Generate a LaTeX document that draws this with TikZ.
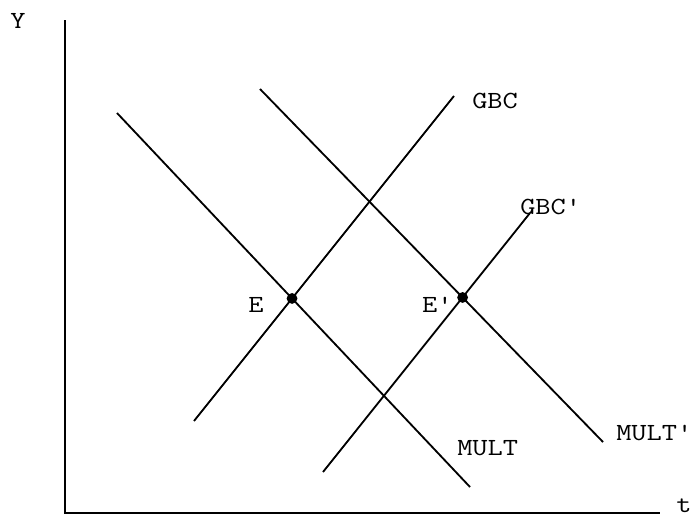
\documentclass[tikz,border=0pt]{standalone}
\usepackage{fontspec}
\setmonofont{Latin Modern Mono}[FakeStretch=1.2]
\usepackage{tikz}

\begin{document}
\begin{tikzpicture}[x=0.025cm, y=-0.025cm,
    curve/.style={line width=1.3pt},
    lbl/.style={font=\fontsize{17.5}{20}\selectfont\ttfamily, inner sep=0pt},
    eqdot/.style={circle, fill=black, inner sep=0pt, minimum size=0.27cm}]
        \useasboundingbox (0,0) rectangle (696,520);
        % Axes
        \coordinate (top) at (65,20);
        \coordinate (origin) at (65,513);
        \coordinate (right) at (660,513);
        \draw[line width=1.7pt] (top) -- (origin) -- (right);
        \node[lbl] (ylab) at (18,21) {Y};
        \node[lbl] (tlab) at (684,506) {t};
        % End points of the four lines
        \coordinate (mult1) at (117,113);
        \coordinate (mult2) at (470,487);
        \coordinate (multb1) at (260,89);
        \coordinate (multb2) at (603,442);
        \coordinate (gbc1) at (194,421);
        \coordinate (gbc2) at (454,96);
        \coordinate (gbcb1) at (323,472);
        \coordinate (gbcb2) at (530,213);
        \draw[curve] (mult1) -- (mult2);
        \draw[curve] (multb1) -- (multb2);
        \draw[curve] (gbc1) -- (gbc2);
        \draw[curve] (gbcb1) -- (gbcb2);
        % Equilibria
        \node[eqdot] (E) at (intersection of mult1--mult2 and gbc1--gbc2) {};
        \node[eqdot] (Eb) at (intersection of multb1--multb2 and gbcb1--gbcb2) {};
        \node[lbl] (elab) at (256,305) {E};
        \node[lbl] (eblab) at (436,305) {E\textquotesingle};
        % Line labels
        \node[lbl, anchor=west] (gbclab) at (472,101) {GBC};
        \node[lbl, anchor=west] (gbcblab) at (520,207) {GBC\textquotesingle};
        \node[lbl, anchor=west] (multlab) at (457,448) {MULT};
        \node[lbl, anchor=west] (multblab) at (616,433) {MULT\textquotesingle};
\end{tikzpicture}
\end{document}
